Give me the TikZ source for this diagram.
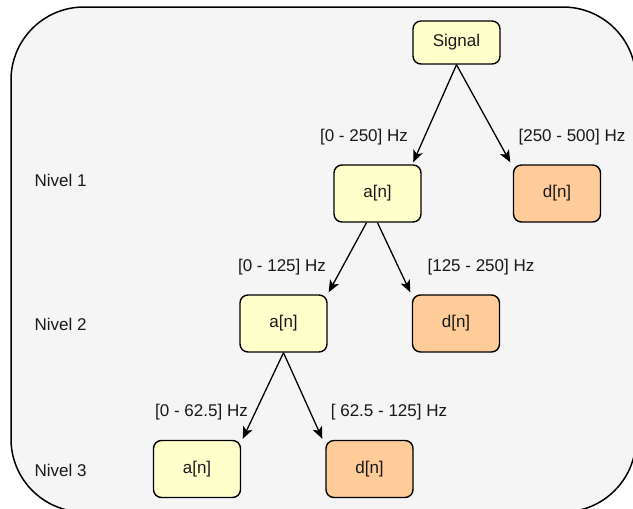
\documentclass[tikz,border=0pt]{standalone}
\usepackage{fontspec}
\setmainfont{Liberation Sans}
\usetikzlibrary{arrows.meta}
\definecolor{bgpanel}{HTML}{F5F5F5}
\definecolor{approx}{HTML}{FFFFCC}
\definecolor{detail}{HTML}{FFCC99}
\begin{document}
\begin{tikzpicture}[x=1pt,y=-1pt,
  every node/.style={font=\fontsize{17}{20}\selectfont, text=black!90},
  coef/.style={draw=black, line width=1.4pt, rounded corners=8pt, minimum width=87pt, minimum height=57pt, inner sep=0pt},
  abox/.style={coef, fill=approx},
  dbox/.style={coef, fill=detail},
  band/.style={inner sep=0pt, anchor=center},
  split/.style={draw=black, line width=1.3pt, -{Stealth[length=12pt,width=10pt,inset=3pt]}}
]
\useasboundingbox (0,0) rectangle (633,509);
\begin{scope}
\clip (0,0) rectangle (633,509);
\draw[fill=bgpanel, line width=1.5pt, rounded corners=73pt] (11,7) rectangle (636,512);
\end{scope}

% decomposition tree
\node[abox, minimum height=43pt] (sig) at (456.5,42.5) {Signal};
\node[abox] (a1) at (377.5,193.5) {a[n]};
\node[dbox] (d1) at (557,193.5) {d[n]};
\node[abox] (a2) at (283.5,323.5) {a[n]};
\node[dbox] (d2) at (456,323.5) {d[n]};
\node[abox] (a3) at (197,469) {a[n]};
\node[dbox] (d3) at (369.5,469) {d[n]};

% level labels
\node[band] (n1) at (60.5,180) {Nivel 1};
\node[band] (n2) at (60.5,324) {Nivel 2};
\node[band] (n3) at (60.5,470) {Nivel 3};

% frequency bands
\node[band] (f1) at (364,137) {[0 - 250] Hz};
\node[band] (f2) at (572,137) {[250 - 500] Hz};
\node[band] (f3) at (282,267) {[0 - 125] Hz};
\node[band] (f4) at (481,267) {[125 - 250] Hz};
\node[band] (f5) at (201.5,412) {[0 - 62.5] Hz};
\node[band] (f6) at (389,412) {[ 62.5 - 125] Hz};

% filter branches
\draw[split] (sig.south) -- ([xshift=-8.5pt,yshift=2pt]a1.north east);
\draw[split] (sig.south) -- ([xshift=-2.5pt,yshift=2pt]d1.north west);
\draw[split] ([xshift=-11pt]a1.south) -- ([xshift=1pt,yshift=2pt]a2.north east);
\draw[split] (a1.south) -- ([xshift=-1.5pt,yshift=2pt]d2.north west);
\draw[split] (a2.south) -- ([xshift=1.5pt,yshift=1pt]a3.north east);
\draw[split] (a2.south) -- ([xshift=-3pt,yshift=1pt]d3.north west);
\end{tikzpicture}
\end{document}
